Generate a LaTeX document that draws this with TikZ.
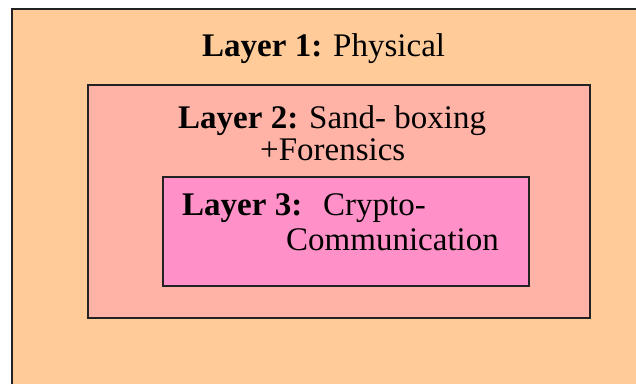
\documentclass[tikz,border=0pt]{standalone}
\usepackage{fontspec}
\setmainfont{Liberation Serif}
\definecolor{peach}{HTML}{FFCC99}
\definecolor{salmon}{HTML}{FFB3A6}
\definecolor{rosepink}{HTML}{FF91C8}
\definecolor{edge}{HTML}{222222}
\tikzset{
  layerbox/.style={draw=edge, line width=2.8pt, inner sep=0pt},
  label/.style={anchor=base west, inner sep=0pt, font=\fontsize{33}{37}\selectfont}
}
\begin{document}
\begin{tikzpicture}[x=1pt,y=-1pt]
  \useasboundingbox (0,0) rectangle (636,383);
  \clip (0,0) rectangle (636,383);
  % layer boxes, outermost first
  \node[layerbox, fill=peach, minimum width=650pt, minimum height=400pt] (l1) at (337,209) {};
  \node[layerbox, fill=salmon, minimum width=502pt, minimum height=233pt] (l2) at (339,201.5) {};
  \node[layerbox, fill=rosepink, minimum width=366pt, minimum height=109pt] (l3) at (346,231.5) {};
  % captions
  \node[label] (t1) at (202,56.5) {\textbf{Layer 1:} Physical};
  \node[label] (t2a) at (178,128) {\textbf{Layer 2:} Sand- boxing};
  \node[label] (t2b) at (260,160) {+Forensics};
  \node[label] (t3a) at (182,215) {\textbf{Layer 3:}};
  \node[label] (t3b) at (323,215) {Crypto-};
  \node[label] (t3c) at (286,250) {Communication};
\end{tikzpicture}
\end{document}
